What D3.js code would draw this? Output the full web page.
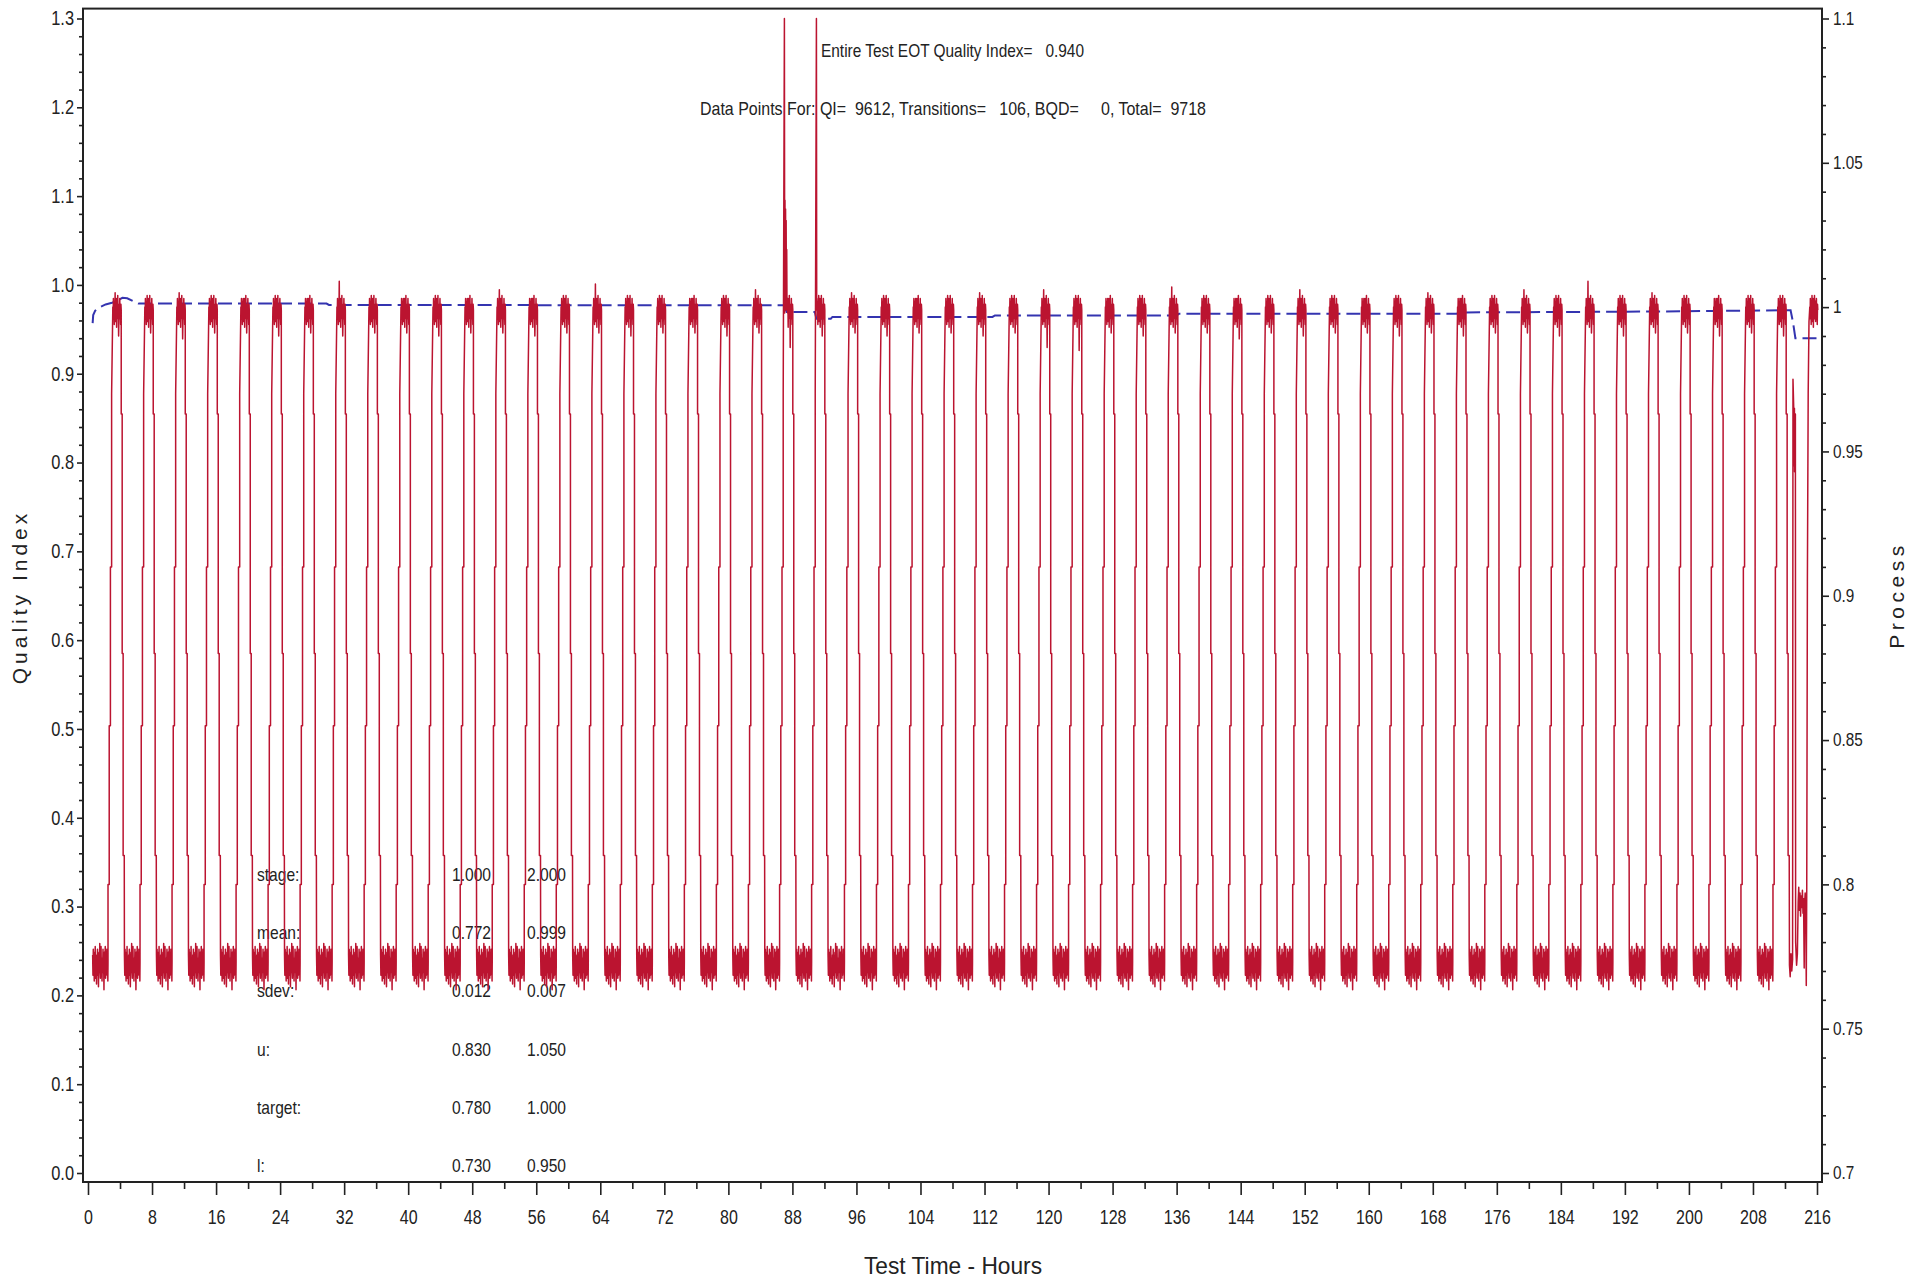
<!DOCTYPE html>
<html>
<head>
<meta charset="utf-8">
<script src="https://cdn.jsdelivr.net/npm/d3@7"></script>
<style>
  html, body { margin: 0; padding: 0; background: #fff; }
  svg { display: block; }
  text { white-space: pre; }
</style>
</head>
<body>
<svg id="chart" width="1925" height="1282"></svg>
<script>
// ---------------- DATA ----------------
// x axis ticks (hours)
const xTickValues = [0, 8, 16, 24, 32, 40, 48, 56, 64, 72, 80, 88, 96, 104, 112, 120, 128, 136, 144, 152, 160, 168, 176, 184, 192, 200, 208, 216];
const xMinorTicks = [4, 12, 20, 28, 36, 44, 52, 60, 68, 76, 84, 92, 100, 108, 116, 124, 132, 140, 148, 156, 164, 172, 180, 188, 196, 204, 212];
// left axis (Quality Index)
const leftTickValues = [0.0, 0.1, 0.2, 0.3, 0.4, 0.5, 0.6, 0.7, 0.8, 0.9, 1.0, 1.1, 1.2, 1.3];
const leftTickLabels = ["0.0", "0.1", "0.2", "0.3", "0.4", "0.5", "0.6", "0.7", "0.8", "0.9", "1.0", "1.1", "1.2", "1.3"];
// right axis (Process)
const rightTickValues = [0.7, 0.75, 0.8, 0.85, 0.9, 0.95, 1.0, 1.05, 1.1];
const rightTickLabels = ["0.7", "0.75", "0.8", "0.85", "0.9", "0.95", "1", "1.05", "1.1"];

// Quality index (blue dashed, left axis): hour / value
const blueHours  = [0.58, 0.65, 0.9, 1.5, 2.2, 3.0, 3.8, 4.3, 4.9, 5.6, 6.3, 29.8, 30.1, 56.0, 56.3, 86.9, 87.3, 90.8, 91.0, 92.8, 93.0, 113.0, 113.3, 136.0, 136.3, 171.0, 171.3, 195.0, 212.7, 213.0, 213.3, 216.1];
const blueValues = [0.957, 0.966, 0.971, 0.975, 0.978, 0.980, 0.983, 0.9855, 0.985, 0.982, 0.979, 0.979, 0.9775, 0.9775, 0.977, 0.977, 0.9695, 0.9695, 0.962, 0.962, 0.964, 0.964, 0.9657, 0.9657, 0.9676, 0.9676, 0.969, 0.970, 0.9715, 0.958, 0.940, 0.940];

// Process signal (red, right axis)
const redStartHour = 0.58;
// hour at which each high (stage 2) plateau starts, one per cycle
const highStart = [3.1, 7.1, 11.1, 15.1, 19.1, 23.1, 27.1, 31.1, 35.1, 39.1, 43.1, 47.1, 51.1, 55.1, 59.1, 63.1, 67.1, 71.1, 75.1, 79.1,
                   83.1, 87.0, 91.0, 95.1, 99.1, 103.1, 107.1, 111.1, 115.1, 119.1, 123.1, 127.1, 131.1, 135.1, 139.1, 143.1, 147.1, 151.1, 155.1, 159.1,
                   163.1, 167.1, 171.1, 175.1, 179.1, 183.1, 187.1, 191.1, 195.1, 199.1, 203.1, 207.1, 211.1];
const highDuration = 1.05;
// highest and lowest reading inside each high plateau
const highPeak = [1.005, 1.004, 1.005, 1.004, 1.003, 1.004, 1.003, 1.009, 1.004, 1.003, 1.004, 1.003, 1.006, 1.003, 1.004, 1.008, 1.004, 1.004, 1.003, 1.004,
                  1.006, 1.004, 1.004, 1.005, 1.004, 1.003, 1.004, 1.005, 1.004, 1.006, 1.004, 1.003, 1.004, 1.007, 1.004, 1.003, 1.004, 1.006, 1.004, 1.003,
                  1.004, 1.005, 1.003, 1.004, 1.006, 1.004, 1.009, 1.004, 1.005, 1.004, 1.003, 1.004, 1.004];
const highDip  = [0.990, 0.991, 0.989, 0.991, 0.991, 0.990, 0.991, 0.990, 0.991, 0.991, 0.990, 0.991, 0.991, 0.990, 0.991, 0.991, 0.990, 0.991, 0.991, 0.990,
                  0.991, 0.986, 0.990, 0.991, 0.990, 0.991, 0.991, 0.990, 0.991, 0.986, 0.985, 0.991, 0.990, 0.991, 0.991, 0.989, 0.991, 0.990, 0.991, 0.991,
                  0.990, 0.991, 0.990, 0.991, 0.991, 0.990, 0.991, 0.990, 0.991, 0.991, 0.990, 0.991, 0.990];
// cycles whose rise overshoots (readings clipped at the top of the frame)
const spikeCycles = [21, 22];
const spikeValues = [[1.1, 0.998, 1.037, 1.0, 1.034, 0.999, 1.03, 1.0, 1.02, 0.999], [1.1, 0.999, 1.003]];
// stage levels and the typical scatter of readings around them (thousandths)
const lowLevel = 0.7725;
const highLevel = 0.999;
const lowJitter  = [3, -4, 5, -2, 1, -6, 4, -3, 6, -5, 0, 2, -7, 3, -1, 5, -4, 2, -8, 1, 4, -3, 7, -2, -5, 3, 6, -4, 0, -6, 2, -1, 5, -3, 1, -9, 4, -2, 2, 6, -5, 3, -4, 0, 5, -3, 1, -6];
const highJitter = [1, -3, 4, -2, 2, -5, 3, 0, 5, -4, 1, -1, 4, -6, 2, 3, -2, 5, -3, 0, 3, -4, 2, -1, 4, -3, 1, -5, 2, 0];
// stepped transitions (hours relative to plateau start / end)
const riseDt     = [-0.6, -0.6, -0.45, -0.45, -0.3, -0.3, -0.15, -0.15];
const riseLevels = [0.773, 0.80, 0.80, 0.855, 0.855, 0.91, 0.91, 0.97];
const fallDt     = [0.0, 0.0, 0.12, 0.12, 0.24, 0.24, 0.38];
const fallLevels = [0.999, 0.963, 0.963, 0.88, 0.88, 0.81, 0.81];
// disturbed end of the test
const tailHours  = [212.56, 212.65, 212.75, 212.85, 212.95, 213.0, 213.12, 213.15, 213.18, 213.2, 213.23, 213.26, 213.3, 213.33, 213.45, 213.55, 213.65, 213.72, 213.8, 213.88, 213.95, 214.02, 214.1, 214.18, 214.25, 214.32, 214.4, 214.45, 214.52, 214.6, 214.66, 214.72, 214.8, 214.9, 215.0, 215.08];
const tailValues = [0.772, 0.768, 0.776, 0.770, 0.774, 0.975, 0.962, 0.945, 0.965, 0.943, 0.960, 0.946, 0.963, 0.780, 0.772, 0.776, 0.794, 0.799, 0.791, 0.797, 0.789, 0.796, 0.792, 0.798, 0.790, 0.795, 0.771, 0.793, 0.797, 0.790, 0.765, 0.800, 0.905, 0.970, 0.995, 0.999];
const finalHigh = [215.1, 216.1];

// annotation texts
const titleLine1 = "Entire Test EOT Quality Index=   0.940";
const titleLine2 = "Data Points For: QI=  9612, Transitions=   106, BQD=     0, Total=  9718";
const statLabels = ["stage:", "mean:", "sdev:", "u:", "target:", "l:"];
const statStage1 = ["1.000", "0.772", "0.012", "0.830", "0.780", "0.730"];
const statStage2 = ["2.000", "0.999", "0.007", "1.050", "1.000", "0.950"];

// ---------------- BUILD SERIES ----------------
function spread(out, t0, t1, vals) {
  const n = vals.length;
  vals.forEach((v, i) => out.push([t0 + (t1 - t0) * i / (n - 1), v]));
}
const red = [];
let prevEnd = redStartHour;
highStart.forEach((hs, k) => {
  spread(red, prevEnd, hs + riseDt[0] - 0.02, lowJitter.map(j => lowLevel + j / 1000));
  riseDt.forEach((d, i) => red.push([hs + d, riseLevels[i]]));
  let hv = highJitter.map(j => highLevel + j / 1000);
  hv[8] = highPeak[k];
  hv[20] = highDip[k];
  const si = spikeCycles.indexOf(k);
  if (si >= 0) hv = spikeValues[si].concat(hv.slice(spikeValues[si].length));
  const he = hs + highDuration;
  spread(red, hs, he, hv);
  fallDt.forEach((d, i) => red.push([he + d, fallLevels[i]]));
  prevEnd = he + fallDt[fallDt.length - 1] + 0.02;
});
tailHours.forEach((h, i) => red.push([h, tailValues[i]]));
spread(red, finalHigh[0], finalHigh[1], highJitter.map(j => highLevel + j / 1000));

const blue = blueHours.map((h, i) => [h, blueValues[i]]);

// ---------------- DRAW ----------------
const REG = "'Liberation Sans', Arial, sans-serif";
const INK = "#222";

// emulate the narrow plotting font by compressing Liberation Sans glyphs
function narrow(sel, f) {
  sel.each(function () {
    const len = this.getComputedTextLength();
    if (len > 0) d3.select(this).attr("textLength", len * f).attr("lengthAdjust", "spacingAndGlyphs");
  });
}

const svg = d3.select("#chart");
const frame = { left: 83, right: 1822, top: 8.6, bottom: 1182 };

const x = d3.scaleLinear().domain([0, 216]).range([88, 1817]);
const yL = d3.scaleLinear().domain([0, 1.3]).range([1173, 18.5]);
const yR = d3.scaleLinear().domain([0.7, 1.1]).range([1173, 18.5]);

// frame
svg.append("rect")
  .attr("x", frame.left).attr("y", frame.top)
  .attr("width", frame.right - frame.left).attr("height", frame.bottom - frame.top)
  .attr("fill", "none").attr("stroke", INK).attr("stroke-width", 2);

function styleAxis(g, size, f) {
  g.select(".domain").remove();
  g.selectAll(".tick line").attr("stroke", INK).attr("stroke-width", 1.6);
  const t = g.selectAll(".tick text").attr("fill", INK).style("font-family", REG).style("font-size", size + "px");
  narrow(t, f);
}

// bottom axis
const gx = svg.append("g").attr("transform", `translate(0,${frame.bottom})`)
  .call(d3.axisBottom(x).tickValues(xTickValues).tickFormat(d3.format("d")).tickSize(13).tickPadding(15));
styleAxis(gx, 20, 0.8);
const gxm = svg.append("g").attr("transform", `translate(0,${frame.bottom})`)
  .call(d3.axisBottom(x).tickValues(xMinorTicks).tickFormat("").tickSize(7));
styleAxis(gxm, 20, 0.8);

// left axis
const gl = svg.append("g").attr("transform", `translate(${frame.left},0)`)
  .call(d3.axisLeft(yL).tickValues(leftTickValues).tickFormat((d, i) => leftTickLabels[i]).tickSize(6).tickPadding(3));
styleAxis(gl, 20, 0.82);
const leftMinor = d3.range(0, 131).filter(i => i % 2 === 0 && i % 10 !== 0).map(i => i / 100);
const glm = svg.append("g").attr("transform", `translate(${frame.left},0)`)
  .call(d3.axisLeft(yL).tickValues(leftMinor).tickFormat("").tickSize(4));
styleAxis(glm, 20, 0.82);

// right axis
const gr = svg.append("g").attr("transform", `translate(${frame.right},0)`)
  .call(d3.axisRight(yR).tickValues(rightTickValues).tickFormat((d, i) => rightTickLabels[i]).tickSize(7).tickPadding(4));
styleAxis(gr, 18, 0.85);
const rightMinor = d3.range(70, 111).filter(i => i % 5 !== 0).map(i => i / 100);
const grm = svg.append("g").attr("transform", `translate(${frame.right},0)`)
  .call(d3.axisRight(yR).tickValues(rightMinor).tickFormat("").tickSize(4));
styleAxis(grm, 18, 0.85);

// axis titles
svg.append("text").attr("x", 953).attr("y", 1274).attr("text-anchor", "middle")
  .style("font-family", REG).style("font-size", "24px")
  .attr("textLength", 178).attr("lengthAdjust", "spacingAndGlyphs")
  .attr("fill", INK).text("Test Time - Hours");
svg.append("text").attr("transform", "translate(27,597) rotate(-90)").attr("text-anchor", "middle")
  .style("font-family", REG).style("font-size", "21px").style("letter-spacing", "4px")
  .attr("fill", INK).text("Quality Index");
svg.append("text").attr("transform", "translate(1904,595) rotate(-90)").attr("text-anchor", "middle")
  .style("font-family", REG).style("font-size", "21px").style("letter-spacing", "4.5px")
  .attr("fill", INK).text("Process");

// annotations
svg.append("text").attr("x", 821).attr("y", 57).attr("xml:space", "preserve")
  .style("font-family", REG).style("font-size", "19px")
  .attr("textLength", 263).attr("lengthAdjust", "spacingAndGlyphs")
  .attr("fill", INK).text(titleLine1);
svg.append("text").attr("x", 700).attr("y", 115).attr("xml:space", "preserve")
  .style("font-family", REG).style("font-size", "19px")
  .attr("textLength", 506).attr("lengthAdjust", "spacingAndGlyphs")
  .attr("fill", INK).text(titleLine2);

const rowY = d3.scalePoint().domain(statLabels).range([874, 1165]);
const stats = svg.append("g").style("font-family", REG).style("font-size", "19px").attr("fill", INK);
statLabels.forEach((lab, i) => {
  const yy = rowY(lab) + 7;
  stats.append("text").attr("x", 257).attr("y", yy).text(lab);
  stats.append("text").attr("x", 491).attr("y", yy).attr("text-anchor", "end").text(statStage1[i]);
  stats.append("text").attr("x", 566).attr("y", yy).attr("text-anchor", "end").text(statStage2[i]);
});
narrow(stats.selectAll("text"), 0.82);

// blue dashed QI line
svg.append("path").datum(blue)
  .attr("d", d3.line().x(d => x(d[0])).y(d => yL(d[1])))
  .attr("fill", "none").attr("stroke", "#3434b0").attr("stroke-width", 2)
  .attr("stroke-dasharray", "14,6");

// red process line
svg.append("path").datum(red)
  .attr("d", d3.line().x(d => x(d[0])).y(d => yR(d[1])))
  .attr("fill", "none").attr("stroke", "#bb1430").attr("stroke-width", 1.5)
  .attr("stroke-linejoin", "round");
</script>
</body>
</html>
